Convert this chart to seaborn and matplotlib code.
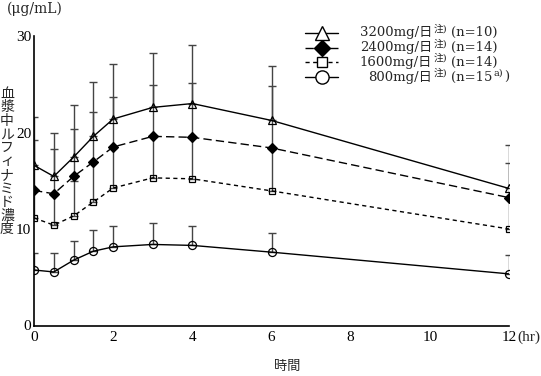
import numpy as np
import pandas as pd
import matplotlib
matplotlib.use("Agg")
import matplotlib.pyplot as plt
from matplotlib.lines import Line2D
import seaborn as sns

# Datos
tiempo = [0, 0.5, 1, 1.5, 2, 3, 4, 6, 12]
dosis = ["3200mg/日", "2400mg/日", "1600mg/日", "800mg/日"]
n_sujetos = ["(n=10)", "(n=14)", "(n=14)", "(n=15"]

media_3200 = [16.6, 15.45, 17.45, 19.6, 21.4, 22.6, 23.0, 21.25, 14.2]
media_2400 = [14.0, 13.65, 15.45, 16.95, 18.5, 19.6, 19.5, 18.4, 13.25]
media_1600 = [11.15, 10.4, 11.35, 12.8, 14.25, 15.3, 15.2, 13.95, 10.0]
media_800 = [5.75, 5.55, 6.77, 7.7, 8.15, 8.4, 8.3, 7.6, 5.35]

sup_3200 = [21.6, 19.95, 22.9, 25.2, 27.1, 28.2, 29.1, 26.9, 18.7]
sup_2400 = [19.2, 18.3, 20.35, 22.1, 23.7, 24.9, 25.15, 24.8, 16.8]
sup_1600 = [13.9, 13.5, 15.0, 16.9, 18.4, 19.5, 19.4, 18.3, 13.2]
sup_800 = [7.47, 7.47, 8.77, 9.85, 10.3, 10.6, 10.3, 9.6, 7.3]

etiqueta_y = "血漿中ルフィナミド濃度"

medias = [media_3200, media_2400, media_1600, media_800]
superiores = [sup_3200, sup_2400, sup_1600, sup_800]

estilos = [
    dict(marker="^", ms=5.8, ms_ley=10, mfc="none", ls="-", dashes=None),
    dict(marker="D", ms=5.5, ms_ley=8.5, mfc="black", ls="--", dashes=(6, 3)),
    dict(marker="s", ms=4.0, ms_ley=7, mfc="none", ls="--", dashes=(3, 2.5)),
    dict(marker="o", ms=5.8, ms_ley=9.5, mfc="none", ls="-", dashes=None),
]

sns.set_theme(style="white")
fuentes = ["Liberation Serif", "Noto Sans CJK JP", "DejaVu Sans"]
fuentes_ley = ["DejaVu Serif", "Noto Sans CJK JP", "DejaVu Sans"]
plt.rcParams["font.family"] = fuentes

fig = plt.figure(figsize=(5.41, 3.76), dpi=100)
ax = fig.add_axes([34 / 541, 1 - 325.5 / 376, (509 - 34) / 541, (325.5 - 36) / 376])

for media, sup, est in zip(medias, superiores, estilos):
    media = np.array(media)
    sup = np.array(sup)
    ax.errorbar(tiempo, media, yerr=[np.zeros_like(media), sup - media], fmt="none",
                ecolor="#444444", elinewidth=1.0, capsize=3, capthick=1.0, zorder=1)
    df = pd.DataFrame({"t": tiempo, "c": media})
    kw = dict(color="black", linewidth=1.0, marker=est["marker"], markersize=est["ms"],
              markerfacecolor=est["mfc"], markeredgecolor="black", markeredgewidth=0.9)
    if est["dashes"] is not None:
        kw["dashes"] = est["dashes"]
    sns.lineplot(data=df, x="t", y="c", ax=ax, zorder=3, **kw)

ax.set_xlim(0, 12)
ax.set_ylim(0, 30)
ax.set_xticks([0, 2, 4, 6, 8, 10, 12])
ax.set_yticks([0, 10, 20, 30])
ax.set_xlabel("")
ax.set_ylabel("")
for s in ["top", "right"]:
    ax.spines[s].set_visible(False)
for s in ["left", "bottom"]:
    ax.spines[s].set_color("black")
    ax.spines[s].set_linewidth(1.2)
ax.tick_params(direction="in", length=5, width=1.0, colors="black", labelsize=11)
ax.tick_params(axis="y", pad=2)
ax.tick_params(axis="x", pad=4)

fig.text(517 / 541, 1 - 337 / 376, "(hr)", fontsize=11, ha="left", va="center")
fig.text(7 / 541, 1 - 9 / 376, "(μg/mL)", fontsize=10, ha="left", va="center",
         family=fuentes_ley)
fig.text(287 / 541, 1 - 367 / 376, "時間", fontsize=9.5, ha="center", va="center")
for i, ch in enumerate(etiqueta_y):
    fig.text(7 / 541, 1 - (94 + i * 13.6) / 376, ch, fontsize=10, ha="center", va="center")

# leyenda manual
filas = [32.7, 47.8, 62.2, 77.0]
for i, est in enumerate(estilos):
    yf = 1 - filas[i] / 376
    ln = Line2D([305 / 541, 338 / 541], [yf, yf], transform=fig.transFigure, color="black",
                linewidth=1.0, linestyle=est["ls"])
    if est["dashes"] is not None:
        ln.set_dashes(est["dashes"])
    fig.add_artist(ln)
    mk = Line2D([321.5 / 541], [yf], transform=fig.transFigure, color="black", linestyle="none",
                marker=est["marker"], markersize=est["ms_ley"],
                markerfacecolor="white" if est["mfc"] == "none" else "black",
                markeredgecolor="black", markeredgewidth=1.0)
    fig.add_artist(mk)
    fig.text(432 / 541, yf, dosis[i], fontsize=9.5, ha="right", va="center", family=fuentes_ley)
    fig.text(434 / 541, 1 - (filas[i] - 4) / 376, "注)", fontsize=7, ha="left", va="center",
             family=fuentes_ley)
    fig.text(451 / 541, yf, n_sujetos[i], fontsize=9.5, ha="left", va="center", family=fuentes_ley)
    if i == 3:
        fig.text(494 / 541, 1 - (filas[i] - 4) / 376, "a)", fontsize=7, ha="left", va="center",
                 family=fuentes_ley)
        fig.text(504 / 541, yf, ")", fontsize=9.5, ha="left", va="center", family=fuentes_ley)

fig.savefig("out.png", dpi=100)
